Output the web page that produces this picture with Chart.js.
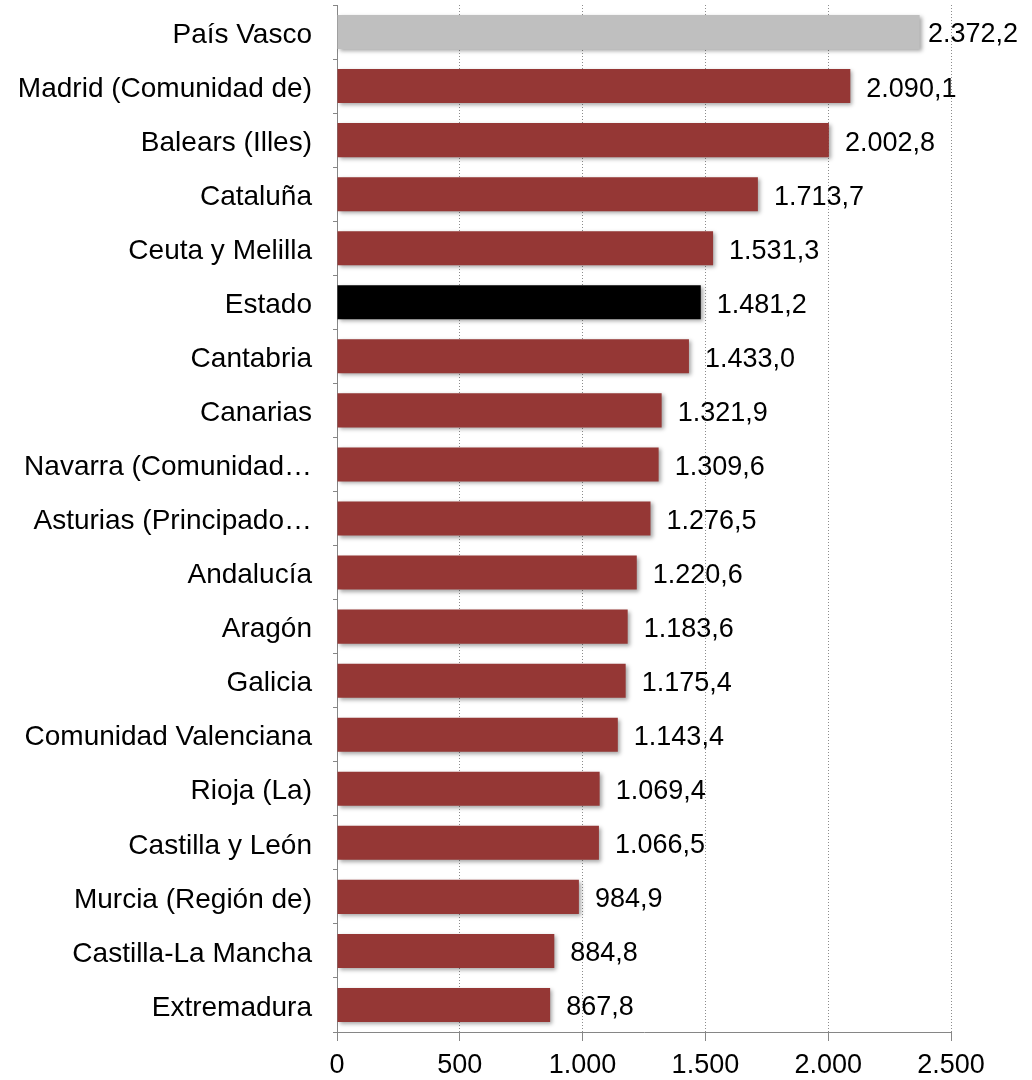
<!DOCTYPE html>
<html>
<head>
<meta charset="utf-8">
<script src="https://cdn.jsdelivr.net/npm/chart.js@4.4.1/dist/chart.umd.min.js"></script>
<style>
  html, body { margin: 0; padding: 0; background: #fff; }
  #wrap { width: 1032px; height: 1080px; position: relative; }
</style>
</head>
<body>
<div id="wrap"><canvas id="chart"></canvas></div>
<script>
const regions = [
  'País Vasco', 'Madrid (Comunidad de)', 'Balears (Illes)', 'Cataluña', 'Ceuta y Melilla',
  'Estado', 'Cantabria', 'Canarias', 'Navarra (Comunidad…', 'Asturias (Principado…',
  'Andalucía', 'Aragón', 'Galicia', 'Comunidad Valenciana', 'Rioja (La)',
  'Castilla y León', 'Murcia (Región de)', 'Castilla-La Mancha', 'Extremadura'
];
const values = [
  2372.2, 2090.1, 2002.8, 1713.7, 1531.3,
  1481.2, 1433.0, 1321.9, 1309.6, 1276.5,
  1220.6, 1183.6, 1175.4, 1143.4, 1069.4,
  1066.5, 984.9, 884.8, 867.8
];
const xTicks = [0, 500, 1000, 1500, 2000, 2500];

const RED = '#953735';
const barColors = regions.map(r => r === 'País Vasco' ? '#bfbfbf' : (r === 'Estado' ? '#000000' : RED));

// Spanish number format: 1.234,5
function fmt(v, decimals) {
  const parts = v.toFixed(decimals).split('.');
  const intPart = parts[0].replace(/\B(?=(\d{3})+(?!\d))/g, '.');
  return parts.length > 1 ? intPart + ',' + parts[1] : intPart;
}

const FONT = '"Liberation Sans", Arial, sans-serif';

// soft drop shadow under the bars
const barShadow = {
  id: 'barShadow',
  beforeDatasetDraw(chart) {
    const ctx = chart.ctx;
    ctx.save();
    ctx.shadowColor = 'rgba(0,0,0,0.35)';
    ctx.shadowBlur = 4;
    ctx.shadowOffsetX = 2;
    ctx.shadowOffsetY = 2;
  },
  afterDatasetDraw(chart) {
    chart.ctx.restore();
  }
};

// value labels at the end of each bar
const valueLabels = {
  id: 'valueLabels',
  afterDatasetsDraw(chart) {
    const ctx = chart.ctx;
    const meta = chart.getDatasetMeta(0);
    ctx.save();
    ctx.font = '27px ' + FONT;
    ctx.fillStyle = '#000';
    ctx.textAlign = 'left';
    ctx.textBaseline = 'middle';
    meta.data.forEach((bar, i) => {
      const txt = fmt(values[i], 1);
      const w = ctx.measureText(txt).width;
      let x = bar.x + 16;
      x = Math.min(x, chart.width - 14 - w);
      ctx.fillText(txt, x, bar.y + 3);
    });
    ctx.restore();
  }
};

new Chart(document.getElementById('chart'), {
  type: 'bar',
  data: {
    labels: regions,
    datasets: [{
      data: values,
      backgroundColor: barColors,
      borderWidth: 0,
      categoryPercentage: 1,
      barPercentage: 0.63
    }]
  },
  options: {
    indexAxis: 'y',
    responsive: true,
    maintainAspectRatio: false,
    animation: false,
    layout: { padding: { top: 5, right: 81, left: 0, bottom: 0 } },
    plugins: {
      legend: { display: false },
      tooltip: { enabled: false }
    },
    scales: {
      x: {
        min: 0,
        max: 2500,
        afterBuildTicks(axis) {
          axis.ticks = xTicks.map(v => ({ value: v }));
        },
        afterFit(axis) { axis.height = 48; },
        ticks: {
          color: '#000',
          font: { family: FONT, size: 27 },
          padding: 8,
          maxRotation: 0,
          callback: v => fmt(v, 0)
        },
        grid: {
          color: '#8c8c8c',
          lineWidth: 1,
          drawTicks: true,
          tickLength: 9,
          tickColor: '#868686',
          tickBorderDash: []
        },
        border: { display: true, color: '#868686', width: 1, dash: [1, 2] }
      },
      y: {
        afterFit(axis) {
          axis.width = 337;
          axis.paddingTop = 0;
          axis.paddingBottom = 0;
        },
        ticks: {
          color: '#000',
          font: { family: FONT, size: 28 },
          padding: 21,
          labelOffset: 3,
          autoSkip: false
        },
        grid: {
          offset: true,
          drawOnChartArea: false,
          drawTicks: true,
          tickLength: 4,
          tickColor: '#868686'
        },
        border: { display: true, color: '#868686', width: 1 }
      }
    }
  },
  plugins: [barShadow, valueLabels]
});
</script>
</body>
</html>
